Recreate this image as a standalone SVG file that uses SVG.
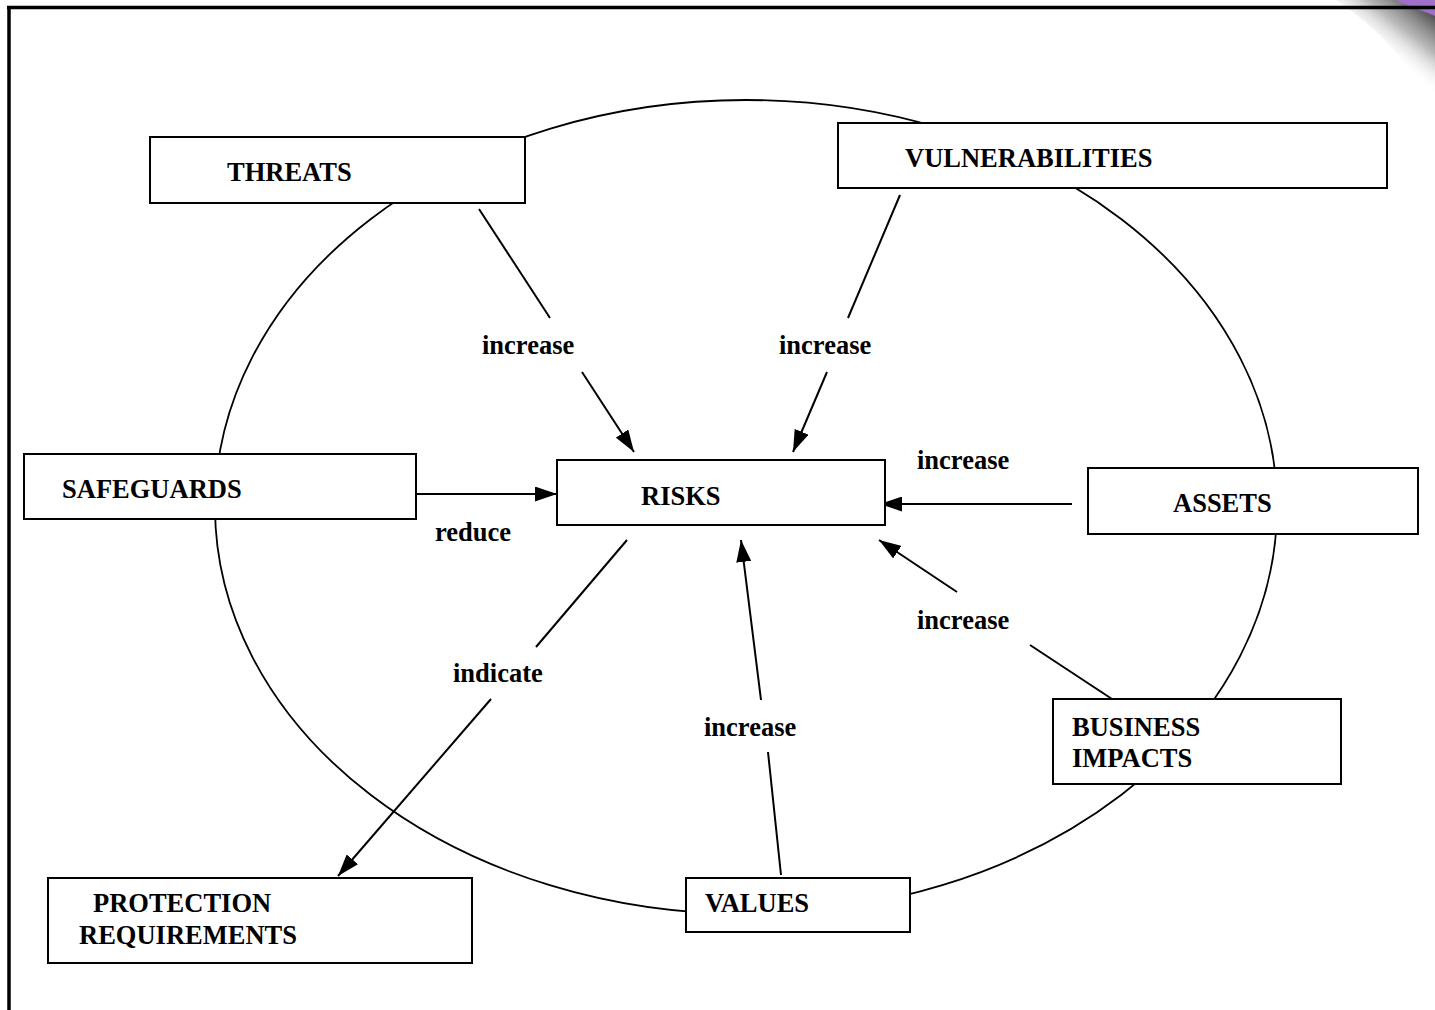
<svg xmlns="http://www.w3.org/2000/svg" width="1435" height="1010" viewBox="0 0 1435 1010">
<style>
.box{fill:#fff;stroke:#000;stroke-width:2}
.t{font-family:"Liberation Serif","Times New Roman",serif;font-weight:bold;font-size:26.5px;fill:#000}
.c{stroke:#000;stroke-width:2;fill:none}
</style>
<defs>
<marker id="ah" viewBox="0 0 22 15" refX="22" refY="7.5" markerWidth="22" markerHeight="15" markerUnits="userSpaceOnUse" orient="auto">
<path d="M0,0 L22,7.5 L0,15 Z" fill="#000"/>
</marker>
<linearGradient id="shadow" x1="1425" y1="5" x2="1385" y2="55" gradientUnits="userSpaceOnUse">
<stop offset="0" stop-color="#444" stop-opacity="1"/>
<stop offset="0.5" stop-color="#888" stop-opacity="0.6"/>
<stop offset="1" stop-color="#fff" stop-opacity="0"/>
</linearGradient>
</defs>
<rect width="1435" height="1010" fill="#fff"/>
<g id="page-curl">
<path d="M1335,0 L1435,0 L1435,115 Q1400,40 1335,0 Z" fill="url(#shadow)"/>
<polygon points="1395,0 1435,0 1435,16" fill="#a070c8"/>
</g>
<g id="frame">
<line x1="7" y1="7.5" x2="1435" y2="7.5" stroke="#000" stroke-width="3.5"/>
<line x1="9" y1="6" x2="9" y2="1010" stroke="#000" stroke-width="3.5"/>
</g>
<g id="cycle">
<ellipse cx="746" cy="507" rx="531" ry="407" fill="none" stroke="#000" stroke-width="1.8"/>
</g>
<g id="connectors">
<line class="c" x1="479" y1="209" x2="550" y2="318"/>
<line class="c" x1="582" y1="372" x2="634" y2="452" marker-end="url(#ah)"/>
<line class="c" x1="900" y1="195" x2="848" y2="318"/>
<line class="c" x1="827" y1="372" x2="793" y2="452" marker-end="url(#ah)"/>
<line class="c" x1="416" y1="494" x2="557" y2="494" marker-end="url(#ah)"/>
<line class="c" x1="1072" y1="504" x2="880" y2="504" marker-end="url(#ah)"/>
<line class="c" x1="1112" y1="699" x2="1030" y2="645"/>
<line class="c" x1="957" y1="592" x2="879" y2="540" marker-end="url(#ah)"/>
<line class="c" x1="627" y1="540" x2="536" y2="647"/>
<line class="c" x1="491" y1="699" x2="338" y2="876" marker-end="url(#ah)"/>
<line class="c" x1="781" y1="875" x2="768" y2="752"/>
<line class="c" x1="761" y1="700" x2="741" y2="540" marker-end="url(#ah)"/>
</g>
<g id="labels">
<text class="t" x="482" y="354">increase</text>
<text class="t" x="779" y="354">increase</text>
<text class="t" x="917" y="469">increase</text>
<text class="t" x="435" y="541">reduce</text>
<text class="t" x="917" y="629">increase</text>
<text class="t" x="453" y="682">indicate</text>
<text class="t" x="704" y="736">increase</text>
</g>
<g id="threats"><rect class="box" x="150" y="137" width="375" height="66"/><text class="t" x="227" y="181">THREATS</text></g>
<g id="vulnerabilities"><rect class="box" x="838" y="123" width="549" height="65"/><text class="t" x="905" y="167">VULNERABILITIES</text></g>
<g id="safeguards"><rect class="box" x="24" y="454" width="392" height="65"/><text class="t" x="62" y="498">SAFEGUARDS</text></g>
<g id="risks"><rect class="box" x="557" y="460" width="328" height="65"/><text class="t" x="641" y="505">RISKS</text></g>
<g id="assets"><rect class="box" x="1088" y="468" width="330" height="66"/><text class="t" x="1173" y="512">ASSETS</text></g>
<g id="business-impacts"><rect class="box" x="1053" y="699" width="288" height="85"/><text class="t" x="1072" y="736">BUSINESS</text><text class="t" x="1072" y="767">IMPACTS</text></g>
<g id="values"><rect class="box" x="686" y="878" width="224" height="54"/><text class="t" x="705" y="912">VALUES</text></g>
<g id="protection-requirements"><rect class="box" x="48" y="878" width="424" height="85"/><text class="t" x="93" y="912">PROTECTION</text><text class="t" x="79" y="944">REQUIREMENTS</text></g>
</svg>
